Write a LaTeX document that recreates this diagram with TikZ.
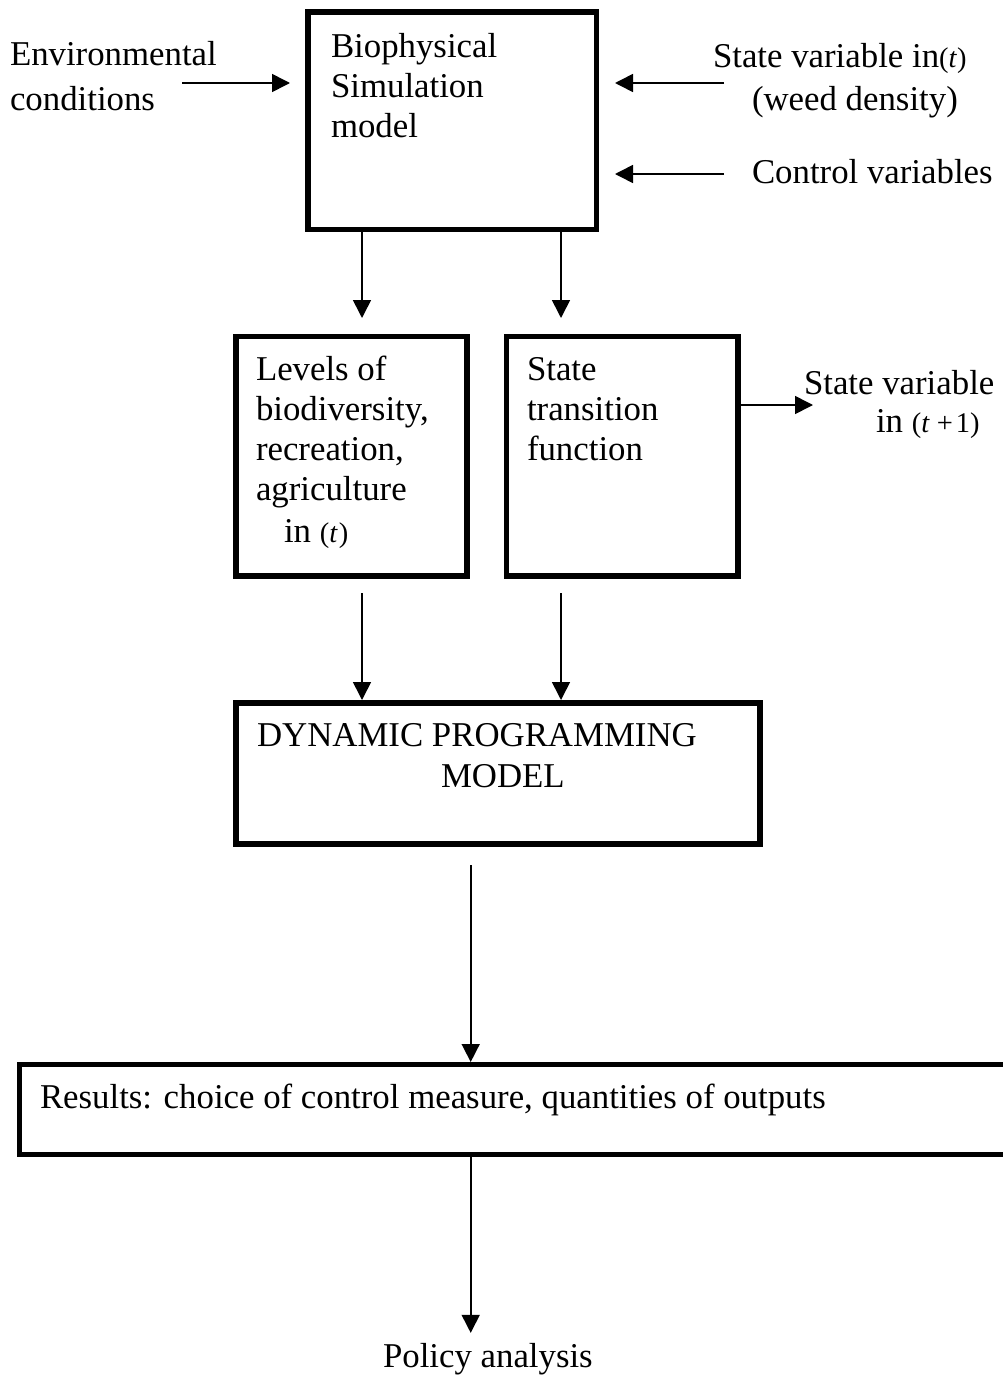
\documentclass[tikz,border=0pt]{standalone}
\usepackage{fontspec}
\setmainfont{Liberation Serif}
\usetikzlibrary{arrows.meta}

% text sizes: body text and the smaller math-style labels
\newcommand\bodysize{\fontsize{34.8}{40}\selectfont}
\newcommand\mathlbl[1]{{\fontsize{28.5}{28.5}\selectfont #1}}

\tikzset{
  box/.style={draw, line width=5.5pt, inner sep=0pt, outer sep=0pt, anchor=north west},
  txt/.style={inner sep=0pt, outer sep=0pt, anchor=base west, font=\bodysize},
  arr/.style={line width=1.6pt, -{Triangle[length=18pt,width=18pt]}},
}

\begin{document}
\begin{tikzpicture}[x=1pt, y=-1pt]
  \useasboundingbox (0,0) rectangle (1003,1376);
  \clip (0,0) rectangle (1003,1376);

  % boxes
  \node[box, minimum width=288.5pt, minimum height=217.5pt] (bio) at (308,12) {};
  \node[box, minimum width=231pt,   minimum height=239.5pt] (lev) at (236,336.5) {};
  \node[box, minimum width=231.5pt, minimum height=239.5pt] (stf) at (506.5,336.5) {};
  \node[box, minimum width=524pt,   minimum height=141pt]   (dp)  at (236,703) {};
  \node[box, minimum width=1000pt,  minimum height=90pt]    (res) at (19.5,1064.5) {};

  % texts outside the boxes
  \node[txt] (env1) at (10,65)  {Environmental};
  \node[txt] (env2) at (10,110) {conditions};
  \node[txt] (sv1)  at (713,67) {State variable in\mathlbl{(\textit{t})}};
  \node[txt] (sv2)  at (752,110) {(weed density)};
  \node[txt] (ctl)  at (752,183) {Control variables};
  \node[txt] (out1) at (804,394) {State variable};
  \node[txt] (out2) at (876,432) {in \mathlbl{(\textit{t}\hspace{7pt}+\hspace{3pt}1)}};
  \node[txt] (pol)  at (383,1367) {Policy analysis};

  % texts inside the boxes
  \node[txt] (b1) at (331,57)  {Biophysical};
  \node[txt] (b2) at (331,97)  {Simulation};
  \node[txt] (b3) at (331,137) {model};

  \node[txt] (l1) at (256,380) {Levels of};
  \node[txt] (l2) at (256,420) {biodiversity,};
  \node[txt] (l3) at (256,460) {recreation,};
  \node[txt] (l4) at (256,500) {agriculture};
  \node[txt] (l5) at (284,542) {in \mathlbl{(\textit{t}\hspace{1pt})}};

  \node[txt] (s1) at (527,380) {State};
  \node[txt] (s2) at (527,420) {transition};
  \node[txt] (s3) at (527,460) {function};

  \node[txt] (d1) at (257,746) {DYNAMIC PROGRAMMING};
  \node[txt] (d2) at (441,787) {MODEL};

  \node[txt] (r1) at (40,1108) {Results: choice of control measure, quantities of outputs};

  % free ends and column positions of the connectors
  \coordinate (envS) at (182,83);
  \coordinate (svS)  at (724,83);
  \coordinate (ctlS) at (724,174);
  \coordinate (outE) at (813,405);
  \coordinate (colL) at (362,0);
  \coordinate (colR) at (561,0);
  \coordinate (colM) at (470.7,0);

  % inputs to the simulation model
  \draw[arr, shorten >=18pt]   (envS) -- (envS -| bio.west);
  \draw[arr, shorten >=18.5pt] (svS)  -- (svS -| bio.east);
  \draw[arr, shorten >=18.5pt] (ctlS) -- (ctlS -| bio.east);

  % simulation model to the two outputs
  \draw[arr, shorten >=18.5pt] (colL |- bio.south) -- (colL |- lev.north);
  \draw[arr, shorten >=18.5pt] (colR |- bio.south) -- (colR |- stf.north);

  % next state
  \draw[arr] (stf.east |- outE) -- (outE);

  % outputs into dynamic programming
  \draw[arr, shorten <=17pt, shorten >=3pt] (colL |- lev.south) -- (colL |- dp.north);
  \draw[arr, shorten <=17pt, shorten >=3pt] (colR |- stf.south) -- (colR |- dp.north);

  % dynamic programming to results, results to policy
  \draw[arr, shorten <=21pt, shorten >=2.5pt] (colM |- dp.south) -- (colM |- res.north);
  \draw[arr, shorten >=10pt] (colM |- res.south) -- (colM |- pol.north);
\end{tikzpicture}
\end{document}
